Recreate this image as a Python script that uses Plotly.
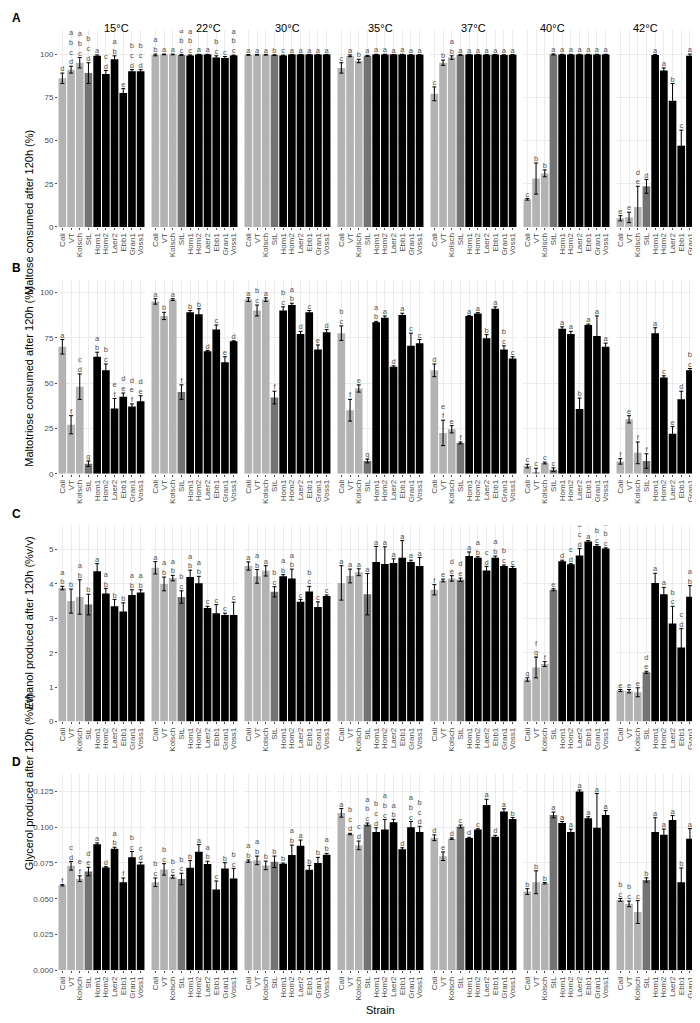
import plotly.graph_objects as go
from plotly.subplots import make_subplots

strains = ["Cali", "VT", "Kolsch", "StL", "Hom1", "Hom2", "Laer2", "Ebb1", "Gran1", "Voss1"]
temps = ["15°C", "22°C", "30°C", "35°C", "37°C", "40°C", "42°C"]
colors = ["#b3b3b3"] * 3 + ["#737373"] + ["#000000"] * 6

# A: maltose consumed (%)
maltose = [
    [86, 91, 95, 89, 99, 88.5, 97, 77.5, 90, 90],
    [99.5, 99.8, 99.8, 99.5, 99.2, 99.8, 99.8, 98, 97.8, 99.2],
    [99.5, 99.6, 99.6, 99.4, 99.2, 99.7, 99.7, 99.7, 99.7, 99.7],
    [92, 99, 96, 99, 99.8, 99.8, 99.7, 99.8, 99.6, 99.6],
    [77, 95, 98, 99.5, 99.7, 99.7, 99.6, 99.7, 99.5, 99.6],
    [16, 28, 31, 99.8, 99.8, 99.8, 99.8, 99.8, 99.8, 99.8],
    [5, 5.5, 11.5, 23.5, 99.5, 90.5, 73, 47, 99, 99.3],
]
maltose_err = [
    [3, 2, 3, 6, 0.5, 2, 2, 2.5, 1, 1],
    [0.5, 0.2, 0.2, 0.3, 0.3, 0.1, 0.1, 1, 0.8, 0.2],
    [0.2, 0.2, 0.2, 0.2, 0.2, 0.1, 0.1, 0.1, 0.1, 0.1],
    [3, 0.5, 1, 0.3, 0.1, 0.1, 0.1, 0.1, 0.1, 0.1],
    [4, 1.5, 1, 0.3, 0.1, 0.1, 0.1, 0.1, 0.1, 0.1],
    [0.5, 9, 2, 0.3, 0.1, 0.1, 0.1, 0.1, 0.1, 0.1],
    [1.5, 3, 12, 4, 0.3, 1.5, 10, 9, 1, 0.3],
]
maltose_let = [
    ["d", "abcd", "abc", "bcd", "a", "cd", "ab", "e", "bcd", "bcd"],
    ["ab", "a", "a", "abc", "abc", "a", "a", "bc", "c", "abc"],
    ["a", "a", "a", "b", "c", "a", "a", "a", "a", "a"],
    ["c", "a", "b", "a", "a", "a", "a", "a", "a", "a"],
    ["c", "b", "ab", "a", "a", "a", "a", "a", "a", "a"],
    ["c", "b", "b", "a", "a", "a", "a", "a", "a", "a"],
    ["e", "e", "de", "d", "a", "a", "b", "c", "a", "a"],
]

# B: maltotriose consumed (%)
maltotriose = [
    [70, 27, 48, 5.5, 64.5, 57, 36, 42.5, 37, 40],
    [95, 87, 96, 45, 89, 88, 67.5, 79.5, 61.5, 73],
    [96, 90, 96, 42, 90, 93, 77, 89, 68.5, 78],
    [77.5, 35, 47, 7, 83.5, 86, 59, 87.5, 70.5, 72],
    [57, 22.5, 24.5, 17, 87, 88.3, 74.7, 91, 68.5, 63.5],
    [4.2, 1, 5.9, 2.2, 80, 77, 35.7, 82, 76, 70],
    [6.8, 30, 11.5, 7, 77.5, 53, 22, 41, 57, 62.5],
]
maltotriose_err = [
    [4, 5, 7, 1.5, 2.5, 3.5, 5.5, 2, 1.5, 3],
    [1.5, 2, 0.5, 4, 1, 3, 0.5, 2.5, 3, 0.3],
    [1, 3, 1, 3.5, 2, 1, 1.5, 1, 2.5, 1.5],
    [4, 6, 2, 1, 0.5, 1, 0.5, 1, 7, 2],
    [3.5, 7, 2, 0.5, 0.3, 0.5, 2, 1, 2, 1],
    [1, 2, 0.5, 1, 1, 1.5, 6, 0.5, 11, 2],
    [1.5, 2, 6, 4, 3, 1, 4, 4.5, 1, 1.5],
]
maltotriose_let = [
    ["a", "f", "cd", "g", "ab", "bc", "ef", "de", "def", "de"],
    ["a", "b", "a", "f", "b", "b", "d", "c", "e", "d"],
    ["a", "bc", "a", "f", "bc", "ab", "d", "c", "e", "d"],
    ["bc", "f", "e", "g", "ab", "a", "d", "a", "c", "c"],
    ["d", "ef", "e", "f", "a", "a", "b", "a", "bc", "c"],
    ["c", "c", "c", "c", "a", "a", "b", "a", "a", "a"],
    ["f", "e", "f", "f", "a", "c", "e", "d", "bc", "b"],
]

# C: ethanol produced (%v/v)
ethanol = [
    [3.88, 3.5, 3.62, 3.4, 4.37, 3.72, 3.35, 3.2, 3.68, 3.75],
    [4.47, 4.0, 4.17, 3.62, 4.2, 4.02, 3.3, 3.15, 3.1, 3.1],
    [4.52, 4.22, 4.38, 3.77, 4.22, 4.16, 3.48, 3.78, 3.33, 3.65],
    [4.03, 4.23, 4.34, 3.7, 4.64, 4.58, 4.61, 4.76, 4.64, 4.52],
    [3.83, 4.1, 4.16, 4.12, 4.81, 4.76, 4.39, 4.76, 4.52, 4.46],
    [1.22, 1.57, 1.67, 3.83, 4.66, 4.57, 4.83, 5.23, 5.1, 5.03],
    [0.9, 0.88, 0.85, 1.43, 4.03, 3.7, 2.85, 2.15, 3.63, 4.11],
]
ethanol_err = [
    [0.05, 0.35, 0.5, 0.3, 0.22, 0.15, 0.2, 0.25, 0.15, 0.08],
    [0.18, 0.2, 0.08, 0.18, 0.2, 0.2, 0.05, 0.25, 0.05, 0.37],
    [0.12, 0.2, 0.15, 0.15, 0.05, 0.27, 0.07, 0.15, 0.15, 0.03],
    [0.5, 0.2, 0.1, 0.6, 0.45, 0.5, 0.12, 0.5, 0.05, 0.25],
    [0.15, 0.04, 0.08, 0.05, 0.12, 0.03, 0.12, 0.05, 0.03, 0.05],
    [0.05, 0.3, 0.07, 0.03, 0.03, 0.02, 0.2, 0.03, 0.04, 0.02],
    [0.03, 0.05, 0.13, 0.03, 0.28, 0.2, 0.5, 0.55, 0.32, 0.07],
]
ethanol_let = [
    ["ab", "b", "ab", "b", "a", "ab", "b", "b", "ab", "ab"],
    ["a", "ab", "ab", "bc", "ab", "ab", "c", "c", "c", "c"],
    ["a", "ab", "a", "bc", "ab", "ab", "c", "bc", "c", "c"],
    ["a", "a", "a", "a", "a", "a", "a", "a", "a", "a"],
    ["f", "e", "de", "de", "a", "ab", "cd", "ab", "bc", "c"],
    ["g", "fg", "f", "e", "d", "cd", "bcd", "a", "abc", "abc"],
    ["e", "e", "e", "de", "a", "a", "bc", "cd", "ab", "a"],
]

# D: glycerol produced (%v/v)
glycerol = [
    [0.0594, 0.073, 0.064, 0.069, 0.088, 0.0719, 0.085, 0.0615, 0.079, 0.074],
    [0.0615, 0.0705, 0.0654, 0.0638, 0.0717, 0.0828, 0.0742, 0.0564, 0.0712, 0.0642],
    [0.0763, 0.0768, 0.0733, 0.0758, 0.0744, 0.0805, 0.087, 0.0703, 0.0749, 0.0807],
    [0.110, 0.0952, 0.0873, 0.1019, 0.0966, 0.0984, 0.1035, 0.0846, 0.100, 0.0966],
    [0.0926, 0.0797, 0.092, 0.1005, 0.0924, 0.0984, 0.1155, 0.0933, 0.1109, 0.1058],
    [0.055, 0.0615, 0.0608, 0.1086, 0.103, 0.0966, 0.125, 0.1063, 0.0996, 0.1086],
    [0.0492, 0.0464, 0.0407, 0.0631, 0.0966, 0.0947, 0.1051, 0.0615, 0.092, 0.0982],
]
glycerol_err = [
    [0.0005, 0.003, 0.002, 0.003, 0.001, 0.0005, 0.001, 0.003, 0.004, 0.0015],
    [0.003, 0.004, 0.001, 0.004, 0.005, 0.005, 0.002, 0.006, 0.004, 0.007],
    [0.0008, 0.003, 0.003, 0.004, 0.0005, 0.007, 0.004, 0.003, 0.004, 0.001],
    [0.003, 0.0005, 0.003, 0.001, 0.003, 0.007, 0.002, 0.001, 0.004, 0.004],
    [0.002, 0.003, 0.0005, 0.001, 0.0005, 0.0005, 0.004, 0.001, 0.002, 0.001],
    [0.002, 0.008, 0.0005, 0.002, 0.001, 0.002, 0.001, 0.001, 0.024, 0.003],
    [0.001, 0.002, 0.008, 0.0015, 0.010, 0.004, 0.003, 0.010, 0.007, 0.002],
]
glycerol_let = [
    ["f", "cd", "ef", "de", "a", "d", "ab", "f", "bc", "cd"],
    ["bc", "bc", "bc", "bc", "b", "a", "ab", "c", "b", "bc"],
    ["ab", "ab", "b", "b", "b", "ab", "a", "b", "b", "ab"],
    ["a", "bcd", "cd", "abc", "bcd", "abc", "ab", "d", "abc", "bcd"],
    ["d", "e", "d", "c", "d", "c", "a", "d", "a", "b"],
    ["b", "b", "b", "a", "a", "a", "a", "a", "a", "a"],
    ["bc", "bc", "c", "b", "a", "a", "a", "b", "a", "a"],
]

rows = [
    ("A", "Maltose consumed after 120h (%)", maltose, maltose_err, maltose_let, [0, 114], [0, 25, 50, 75, 100], None),
    ("B", "Maltotriose consumed after 120h (%)", maltotriose, maltotriose_err, maltotriose_let, [0, 107], [0, 25, 50, 75, 100], None),
    ("C", "Ethanol produced after 120h (%v/v)", ethanol, ethanol_err, ethanol_let, [0, 5.7], [0, 1, 2, 3, 4, 5], None),
    ("D", "Glycerol produced after 120h (%v/v)", glycerol, glycerol_err, glycerol_let, [0, 0.137], [0, 0.025, 0.05, 0.075, 0.1, 0.125], ".3f"),
]
# panel pixel boxes (top, bottom) of each row
row_px = [(22, 220), (273, 468), (520, 717), (770, 967)]
W, H = 700, 1023

fig = make_subplots(rows=4, cols=7)
grey_txt = "#4d4d4d"

for r, (tag, ytitle, vals, errs, lets, yr, tv, fmt) in enumerate(rows):
    top, bot = row_px[r]
    for c in range(7):
        fig.add_trace(go.Bar(
            x=strains, y=vals[c], marker_color=colors, marker_line_width=0, width=0.88,
            error_y=dict(type="data", array=errs[c], color="black", thickness=1, width=2),
            showlegend=False, hoverinfo="x+y"
        ), row=r + 1, col=c + 1)
        fig.add_trace(go.Scatter(
            x=strains, y=[v + e for v, e in zip(vals[c], errs[c])],
            mode="text", text=["<br>".join(s) for s in lets[c]],
            textposition="top center", textfont=dict(size=7.5, color="#555555"),
            showlegend=False, hoverinfo="skip"
        ), row=r + 1, col=c + 1)
        left = 50 + 93 * c
        fig.update_xaxes(domain=[left / W, (left + 87) / W], tickangle=-90,
                         tickmode="array", tickvals=strains, ticktext=strains,
                         tickfont=dict(size=8, color=grey_txt), showgrid=True,
                         gridcolor="#ebebeb", ticks="outside", ticklen=2, tickcolor=grey_txt,
                         showline=False, zeroline=False, row=r + 1, col=c + 1)
        fig.update_yaxes(domain=[1 - bot / H, 1 - top / H], range=yr, tickvals=tv,
                         tickformat=fmt, showticklabels=(c == 0),
                         tickfont=dict(size=8, color=grey_txt), gridcolor="#ebebeb",
                         ticks="outside" if c == 0 else "", ticklen=2, tickcolor=grey_txt,
                         zeroline=False, showline=False, row=r + 1, col=c + 1)
    fig.add_annotation(text="<b>" + tag + "</b>", x=2 / W, y=1 - (top - 12) / H, xref="paper", yref="paper",
                       xanchor="left", yanchor="middle", showarrow=False, font=dict(size=12, color="black"))
    fig.add_annotation(text=ytitle, x=13 / W, y=1 - (top + bot) / 2 / H, xref="paper", yref="paper",
                       textangle=-90, showarrow=False, font=dict(size=11, color="black"))

for c, t in enumerate(temps):
    fig.add_annotation(text=t, x=(50 + 93 * c + 43.5) / W, y=1 - 12 / H, xref="paper", yref="paper",
                       showarrow=False, font=dict(size=11, color="black"))
fig.add_annotation(text="Strain", x=373 / W, y=1 - 1015 / H, xref="paper", yref="paper",
                   showarrow=False, font=dict(size=11, color="black"))

fig.update_layout(width=W, height=H, margin=dict(l=0, r=0, t=0, b=0),
                  plot_bgcolor="white", paper_bgcolor="white", bargap=0.1,
                  font=dict(family="Liberation Sans, Arial, sans-serif"))
fig.write_html("out.html")
